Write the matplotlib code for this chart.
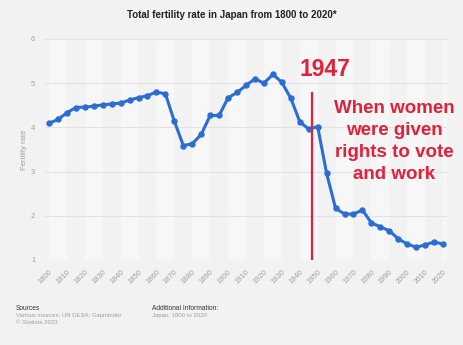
import matplotlib.pyplot as plt

plt.rcParams['font.family'] = ['Liberation Sans', 'DejaVu Sans']

years = list(range(1800, 2021, 5))
fertility = [4.09, 4.18, 4.33, 4.45, 4.46, 4.48, 4.51, 4.53, 4.55, 4.62,
             4.67, 4.72, 4.80, 4.76, 4.14, 3.59, 3.63, 3.84, 4.27, 4.27,
             4.67, 4.79, 4.95, 5.10, 5.00, 5.20, 5.02, 4.66, 4.13, 3.96,
             4.02, 2.96, 2.17, 2.04, 2.04, 2.13, 1.84, 1.75, 1.66, 1.48,
             1.36, 1.29, 1.34, 1.41, 1.36]
tick_years = list(range(1800, 2021, 10))
y_ticks = [1, 2, 3, 4, 5, 6]
event_year = 1947
event_top = 4.77

bg = '#f2f2f2'
red = '#e0213c'

fig = plt.figure(figsize=(4.64, 3.45), dpi=100, facecolor=bg)
ax = fig.add_axes([45 / 464, 1 - 260 / 345, 402 / 464, 221 / 345])
ax.set_facecolor(bg)

# alternating column bands
for start in range(1800, 2021, 20):
    ax.axvspan(start, start + 10, color='#f7f7f7', zorder=0, lw=0)

ax.set_xlim(1797.8, 2022.2)
ax.set_ylim(1, 6)
ax.set_yticks(y_ticks)
ax.set_xticks(tick_years)
ax.grid(axis='y', color='#e3e3e3', lw=0.8, zorder=1)
for s in ax.spines.values():
    s.set_visible(False)
ax.tick_params(length=0, labelsize=5.5, labelcolor='#a0a0a0')
ax.tick_params(axis='y', pad=7)
ax.tick_params(axis='x', pad=6)
plt.setp(ax.get_xticklabels(), rotation=45, ha='right', rotation_mode='anchor')
ax.set_ylabel('Fertility rate', fontsize=5.5, color='#a0a0a0', labelpad=2)

ax.plot(years, fertility, color='#2b6dd3', lw=2.2, marker='o', ms=3.6,
        zorder=3, solid_capstyle='round')

ax.plot([event_year, event_year], [1, event_top], color=red, lw=1.6, zorder=4)
ax.text(1954.2, 5.30, '1947', color=red, fontsize=16.5, fontweight='bold',
        ha='center', va='center', zorder=5)
ax.text(1992.7, 3.68, 'When women\nwere given\nrights to vote\nand work', color=red,
        fontsize=13.5, fontweight='bold', ha='center', va='center',
        linespacing=1.38, zorder=5)

fig.text(232 / 464, 1 - 15 / 345, 'Total fertility rate in Japan from 1800 to 2020*',
         ha='center', va='center', fontsize=7, fontweight='bold', color='#222222')

fig.text(16 / 464, 1 - 308 / 345, 'Sources', fontsize=4.8, color='#333333', va='center')
fig.text(16 / 464, 1 - 316 / 345, 'Various sources; UN DESA; Gapminder', fontsize=4.3,
         color='#a0a0a0', va='center')
fig.text(16 / 464, 1 - 323 / 345, '© Statista 2023', fontsize=4.3, color='#a0a0a0', va='center')
fig.text(152 / 464, 1 - 308 / 345, 'Additional Information:', fontsize=4.8, color='#333333',
         va='center')
fig.text(152 / 464, 1 - 316 / 345, 'Japan; 1800 to 2020', fontsize=4.3, color='#a0a0a0',
         va='center')

fig.savefig('out.png', dpi=100, facecolor=bg)
